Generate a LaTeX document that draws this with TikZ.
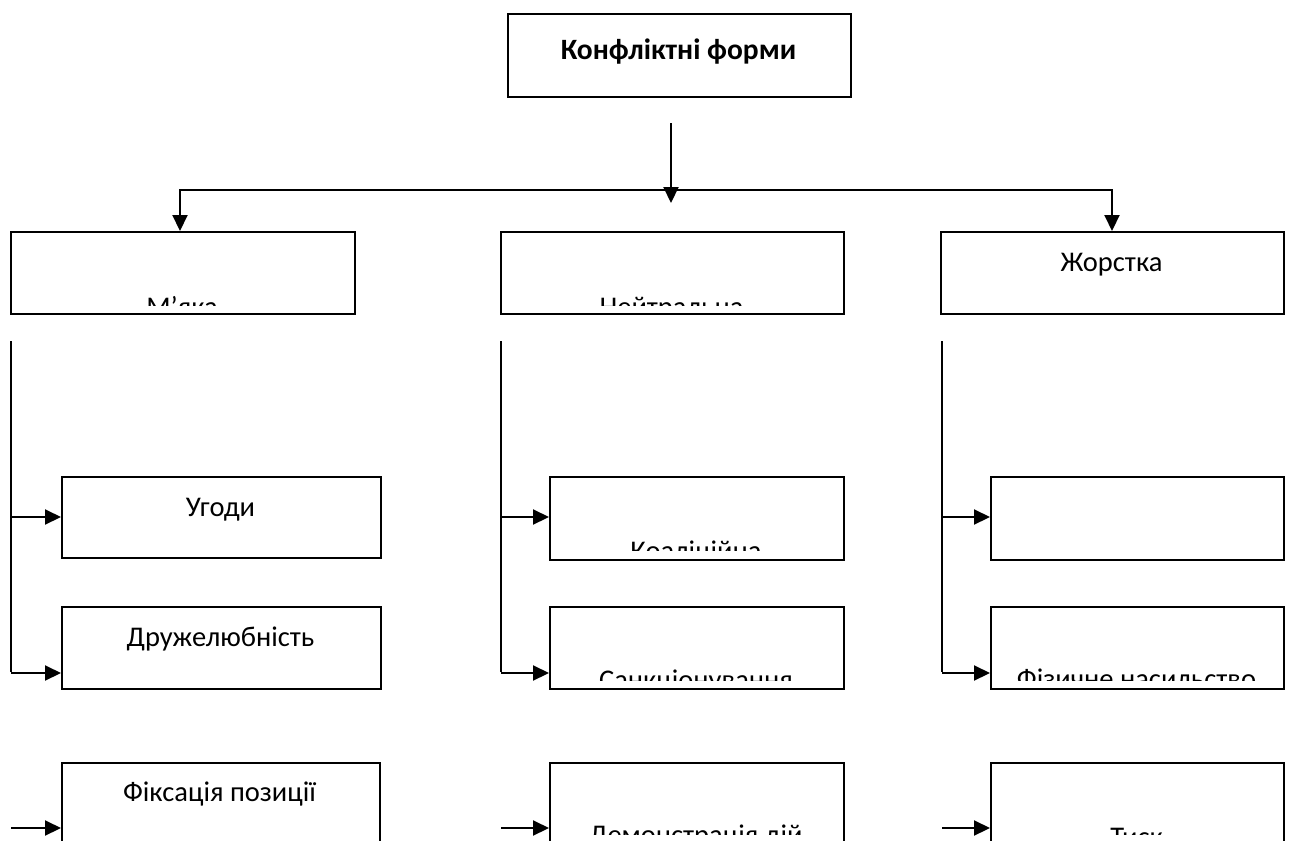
\documentclass[tikz,border=0pt]{standalone}
\usepackage{fontspec}
\setmainfont{Carlito}
\usetikzlibrary{arrows.meta}
\begin{document}
\begin{tikzpicture}[x=1pt,y=-1pt,
  box/.style={draw, line width=2.1pt, rectangle, inner sep=0pt, anchor=north west},
  lbl/.style={font=\fontsize{28.5}{32}\selectfont, inner sep=0pt, anchor=base},
  wire/.style={line width=2.1pt},
  link/.style={line width=2.1pt, -{Triangle[length=16pt,width=15pt]}}]
\useasboundingbox (0,0) rectangle (1291,841);

% top box
\node[box, minimum width=343pt, minimum height=83pt] (top) at (507,13) {};
\node[lbl, font=\fontsize{29.5}{33}\selectfont\bfseries] (ttop) at (678.5,59) {Конфліктні форми};

% second level
\node[box, minimum width=344pt, minimum height=82pt] (soft) at (10,231) {};
\node[box, minimum width=343pt, minimum height=82pt] (neut) at (500,231) {};
\node[box, minimum width=343pt, minimum height=82pt] (hard) at (940,231) {};

% left column boxes
\node[box, minimum width=319pt, minimum height=81pt] (s1) at (61,476) {};
\node[box, minimum width=319pt, minimum height=82pt] (s2) at (61,606) {};
\node[box, minimum width=318pt, minimum height=100pt] (s3) at (61,762) {};
% middle column boxes
\node[box, minimum width=294pt, minimum height=83pt] (n1) at (549,476) {};
\node[box, minimum width=294pt, minimum height=82pt] (n2) at (549,606) {};
\node[box, minimum width=294pt, minimum height=100pt] (n3) at (549,762) {};
% right column boxes
\node[box, minimum width=293pt, minimum height=83pt] (h1) at (990,476) {};
\node[box, minimum width=293pt, minimum height=82pt] (h2) at (990,606) {};
\node[box, minimum width=293pt, minimum height=100pt] (h3) at (990,762) {};

% labels that sit wholly inside their boxes
\node[lbl] (thard) at (1111.5,271) {Жорстка};
\node[lbl] (ts1) at (220.5,516) {Угоди};
\node[lbl] (ts2) at (220.5,646) {Дружелюбність};
\node[lbl] (ts3) at (219.5,801) {Фіксація позиції};

% labels cut off by the lower part of their boxes
\begin{scope}
  \clip (soft.north west) rectangle ([yshift=10pt]soft.south east);
  \node[lbl] (tsoft) at (182,316) {М’яка};
\end{scope}
\begin{scope}
  \clip (neut.north west) rectangle ([yshift=10pt]neut.south east);
  \node[lbl] (tneut) at (671.5,316) {Нейтральна};
\end{scope}
\begin{scope}
  \clip (n1.north west) rectangle ([yshift=11pt]n1.south east);
  \node[lbl] (tn1) at (696,560) {Коаліційна};
\end{scope}
\begin{scope}
  \clip (n2.north west) rectangle ([yshift=10pt]n2.south east);
  \node[lbl] (tn2) at (696,689) {Санкціонування};
\end{scope}
\begin{scope}
  \clip (h2.north west) rectangle ([yshift=10pt]h2.south east);
  \node[lbl] (th2) at (1136.5,688) {Фізичне насильство};
\end{scope}
\begin{scope}
  \clip (n3.north west) rectangle (843,834);
  \node[lbl] (tn3) at (696,844) {Демонстрація дій};
\end{scope}
\begin{scope}
  \clip (h3.north west) rectangle (1283,834);
  \node[lbl] (th3) at (1136.5,846) {Тиск};
\end{scope}

% connectors from the top box
\coordinate (c0) at (671,123);
\coordinate (c1) at (671,203);
\draw[link] (c0) -- (c1);
\coordinate (jL) at (180,190);
\coordinate (jR) at (1112,190);
\draw[wire, line join=miter, {Triangle[length=16pt,width=15pt]}-{Triangle[length=16pt,width=15pt]}]
  (jL |- soft.north) -- (jL) -- (jR) -- (jR |- hard.north);

% column rails
\coordinate (rs) at (11,341);
\coordinate (rn) at (501,341);
\coordinate (rh) at (942,341);
\draw[wire] (rs) -- (11,672);
\draw[wire] (rn) -- (501,672);
\draw[wire] (rh) -- (942,672);

% branch arrows
\foreach \c/\x in {s/11, n/501, h/942} {
  \draw[link] (\x,517) -- (\c1.west |- 0,517);
  \draw[link] (\x,673) -- (\c2.west |- 0,673);
  \draw[link] (\x,828) -- (\c3.west |- 0,828);
}
\end{tikzpicture}
\end{document}
